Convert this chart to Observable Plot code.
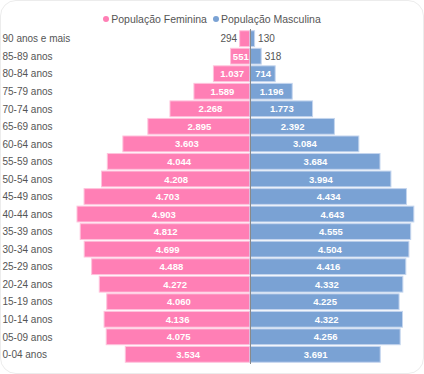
<!DOCTYPE html>
<html>
<head>
<meta charset="utf-8">
<script src="https://cdn.jsdelivr.net/npm/d3@7"></script>
<script src="https://cdn.jsdelivr.net/npm/@observablehq/plot@0.6"></script>
<style>
  html, body { margin: 0; padding: 0; background: #fff; }
  body { width: 424px; height: 374px; overflow: hidden; position: relative; font-family: "Liberation Sans", Arial, sans-serif; }
  #card { position: absolute; left: 0; top: 0; width: 422px; height: 372px; border: 1px solid #ececec; border-radius: 16px; pointer-events: none; }
  #legend { position: absolute; top: 13px; left: 0; width: 424px; text-align: center; font-size: 10.5px; color: #555; white-space: nowrap; }
  #legend span.item { margin: 0 3px; }
  #legend span.dot { display: inline-block; width: 6px; height: 6px; border-radius: 50%; margin-right: 2px; vertical-align: 1px; }
  #chart { position: absolute; left: 0; top: 0; }
</style>
</head>
<body>
<div id="card"></div>
<div id="chart"></div>
<div id="legend"></div>
<script>
const ages = ["90 anos e mais","85-89 anos","80-84 anos","75-79 anos","70-74 anos","65-69 anos","60-64 anos","55-59 anos","50-54 anos","45-49 anos","40-44 anos","35-39 anos","30-34 anos","25-29 anos","20-24 anos","15-19 anos","10-14 anos","05-09 anos","0-04 anos"];
const female = [294,551,1037,1589,2268,2895,3603,4044,4208,4703,4903,4812,4699,4488,4272,4060,4136,4075,3534];
const male = [130,318,714,1196,1773,2392,3084,3684,3994,4434,4643,4555,4504,4416,4332,4225,4322,4256,3691];
const seriesNames = ["População Feminina", "População Masculina"];
const colors = ["#ff7fb5", "#7aa2d4"];
const strokes = ["#ffc3dc", "#c4d5ee"];

const fmt = d3.formatLocale({decimal: ",", thousands: ".", grouping: [3], currency: ["R$", ""]}).format(",");

const rows = [];
ages.forEach((a, i) => {
  rows.push({age: a, sex: seriesNames[0], value: female[i], x: -female[i]});
  rows.push({age: a, sex: seriesNames[1], value: male[i], x: male[i]});
});
const fRows = rows.filter(d => d.sex === seriesNames[0]);
const mRows = rows.filter(d => d.sex === seriesNames[1]);
const maxV = d3.max(rows, d => d.value);
const insideMin = 500;

const chart = Plot.plot({
  width: 424,
  height: 374,
  marginTop: 29,
  marginBottom: 10,
  marginLeft: 77,
  marginRight: 1,
  style: {fontFamily: "'Liberation Sans', Arial, sans-serif", fontSize: "10px", color: "#555", background: "transparent"},
  x: {domain: [-maxV, maxV], axis: null},
  y: {domain: ages, padding: 0.1, round: false, label: null},
  marks: [
    Plot.barX(fRows, {x1: 0, x2: "x", y: "age", fill: colors[0], stroke: strokes[0], strokeWidth: 1}),
    Plot.barX(mRows, {x1: 0, x2: "x", y: "age", fill: colors[1], stroke: strokes[1], strokeWidth: 1}),
    Plot.ruleX([0], {stroke: "#8a8a8a", strokeWidth: 1}),
    Plot.text(rows.filter(d => d.value >= insideMin), {x: d => d.x / 2, y: "age", text: d => fmt(d.value), fill: "white", fontWeight: "bold", fontSize: 9.5}),
    Plot.text(fRows.filter(d => d.value < insideMin), {x: "x", y: "age", text: d => fmt(d.value), fill: "#555", textAnchor: "end", dx: -3, fontSize: 10}),
    Plot.text(mRows.filter(d => d.value < insideMin), {x: "x", y: "age", text: d => fmt(d.value), fill: "#555", textAnchor: "start", dx: 3, fontSize: 10}),
    Plot.axisY({tickSize: 0, textAnchor: "start", dx: -66, fill: "#555", fontSize: 10, label: null})
  ]
});
document.getElementById("chart").appendChild(chart);

const legend = document.getElementById("legend");
legend.innerHTML = seriesNames.map((n, i) =>
  `<span class="item"><span class="dot" style="background:${colors[i]}"></span>${n}</span>`).join("");
</script>
</body>
</html>
